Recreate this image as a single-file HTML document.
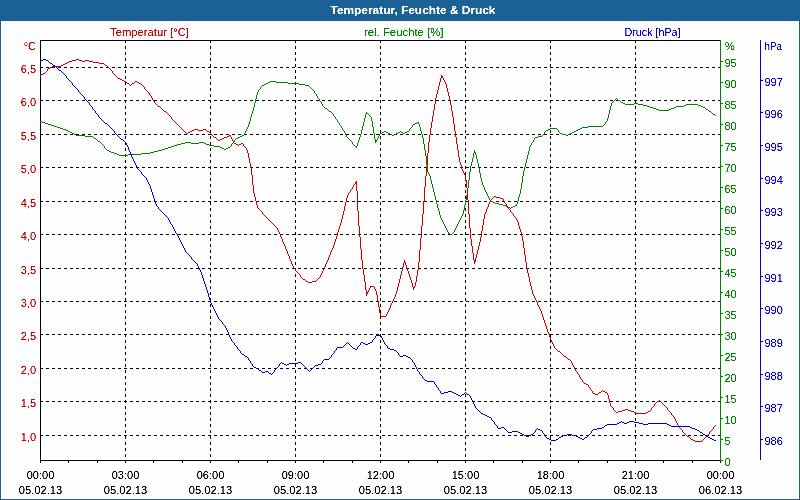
<!DOCTYPE html><html><head><meta charset="utf-8"><title>Temperatur, Feuchte &amp; Druck</title>
<style>html,body{margin:0;padding:0;background:#fff;overflow:hidden}svg{display:block}text{font-family:"Liberation Sans",sans-serif;font-size:11px}</style></head><body>
<svg width="800" height="500" viewBox="0 0 800 500">
<defs><filter id="t" x="0" y="0" width="800" height="500" filterUnits="userSpaceOnUse" color-interpolation-filters="sRGB"><feComponentTransfer><feFuncA type="linear" slope="2.2" intercept="-0.45"/></feComponentTransfer></filter></defs>
<rect x="0" y="0" width="800" height="500" fill="#1c6196"/>
<rect x="1" y="21" width="798" height="478" fill="#fdfefd"/>
<g shape-rendering="crispEdges" stroke="#000" stroke-width="1" stroke-dasharray="3 3" fill="none">
<line x1="125.5" y1="40" x2="125.5" y2="460"/>
<line x1="210.5" y1="40" x2="210.5" y2="460"/>
<line x1="295.5" y1="40" x2="295.5" y2="460"/>
<line x1="380.5" y1="40" x2="380.5" y2="460"/>
<line x1="465.5" y1="40" x2="465.5" y2="460"/>
<line x1="550.5" y1="40" x2="550.5" y2="460"/>
<line x1="635.5" y1="40" x2="635.5" y2="460"/>
<line x1="40" y1="67.5" x2="720" y2="67.5"/>
<line x1="40" y1="100.5" x2="720" y2="100.5"/>
<line x1="40" y1="134.5" x2="720" y2="134.5"/>
<line x1="40" y1="167.5" x2="720" y2="167.5"/>
<line x1="40" y1="201.5" x2="720" y2="201.5"/>
<line x1="40" y1="234.5" x2="720" y2="234.5"/>
<line x1="40" y1="268.5" x2="720" y2="268.5"/>
<line x1="40" y1="301.5" x2="720" y2="301.5"/>
<line x1="40" y1="334.5" x2="720" y2="334.5"/>
<line x1="40" y1="368.5" x2="720" y2="368.5"/>
<line x1="40" y1="401.5" x2="720" y2="401.5"/>
<line x1="40" y1="435.5" x2="720" y2="435.5"/>
</g>
<g shape-rendering="crispEdges" stroke-width="1" fill="none">
<path d="M40.5 40V461M40 40.5H721M40 460.5H721" stroke="#000"/>
<path d="M40.5 461V463M68.5 461V463M97.5 461V463M125.5 461V463M153.5 461V463M182.5 461V463M210.5 461V463M238.5 461V463M267.5 461V463M295.5 461V463M323.5 461V463M352.5 461V463M380.5 461V463M408.5 461V463M437.5 461V463M465.5 461V463M493.5 461V463M522.5 461V463M550.5 461V463M578.5 461V463M607.5 461V463M635.5 461V463M663.5 461V463M692.5 461V463M720.5 461V463" stroke="#000"/>
<path d="M720.5 40V461M721 460.5H723M721 439.5H723M721 418.5H723M721 397.5H723M721 376.5H723M721 355.5H723M721 334.5H723M721 313.5H723M721 292.5H723M721 271.5H723M721 250.5H723M721 229.5H723M721 208.5H723M721 187.5H723M721 166.5H723M721 145.5H723M721 124.5H723M721 103.5H723M721 82.5H723M721 61.5H723" stroke="#008000"/>
<path d="M760.5 40V460M761 80.5H763M761 112.5H763M761 145.5H763M761 178.5H763M761 210.5H763M761 243.5H763M761 276.5H763M761 308.5H763M761 341.5H763M761 374.5H763M761 406.5H763M761 439.5H763" stroke="#0000c8"/>
</g>
<g stroke="none" shape-rendering="crispEdges">
<path fill="#008000" d="M40 121h1v1h-1zM41 121h1v1h-1zM42 122h1v1h-1zM43 122h1v1h-1zM44 122h1v1h-1zM45 123h1v1h-1zM46 123h1v1h-1zM47 123h1v1h-1zM48 124h1v1h-1zM49 124h1v1h-1zM50 124h1v1h-1zM51 125h1v1h-1zM52 125h1v1h-1zM53 125h1v1h-1zM54 126h1v1h-1zM55 126h1v1h-1zM56 126h1v1h-1zM57 127h1v1h-1zM58 127h1v1h-1zM59 127h1v1h-1zM60 128h1v1h-1zM61 128h1v1h-1zM62 128h1v1h-1zM63 129h1v1h-1zM64 129h1v1h-1zM65 129h1v1h-1zM66 130h1v1h-1zM67 130h1v1h-1zM68 131h1v1h-1zM69 131h1v1h-1zM70 132h1v1h-1zM71 132h1v1h-1zM72 133h1v1h-1zM73 133h1v1h-1zM74 134h1v1h-1zM75 134h1v1h-1zM76 135h1v1h-1zM77 135h1v1h-1zM78 135h1v1h-1zM79 135h1v1h-1zM80 135h1v1h-1zM81 135h1v1h-1zM82 135h1v1h-1zM83 135h1v1h-1zM84 135h1v1h-1zM85 136h1v1h-1zM86 136h1v1h-1zM87 136h1v1h-1zM88 136h1v1h-1zM89 136h1v1h-1zM90 136h1v1h-1zM91 136h1v1h-1zM92 136h1v1h-1zM93 137h1v1h-1zM94 138h1v1h-1zM95 138h1v1h-1zM96 139h1v1h-1zM97 140h1v1h-1zM98 141h1v1h-1zM99 141h1v1h-1zM100 142h1v1h-1zM101 143h1v1h-1zM102 144h1v1h-1zM103 145h1v1h-1zM104 146h1v2h-1zM105 148h1v1h-1zM106 149h1v1h-1zM107 150h1v1h-1zM108 150h1v1h-1zM109 151h1v1h-1zM110 151h1v1h-1zM111 152h1v1h-1zM112 152h1v1h-1zM113 152h1v1h-1zM114 153h1v1h-1zM115 153h1v1h-1zM116 153h1v1h-1zM117 154h1v1h-1zM118 154h1v1h-1zM119 155h1v1h-1zM120 155h1v1h-1zM121 155h1v1h-1zM122 155h1v1h-1zM123 155h1v1h-1zM124 155h1v1h-1zM125 155h1v1h-1zM126 155h1v1h-1zM127 155h1v1h-1zM128 154h1v1h-1zM129 154h1v1h-1zM130 154h1v1h-1zM131 154h1v1h-1zM132 154h1v1h-1zM133 154h1v1h-1zM134 154h1v1h-1zM135 154h1v1h-1zM136 154h1v1h-1zM137 154h1v1h-1zM138 154h1v1h-1zM139 154h1v1h-1zM140 154h1v1h-1zM141 153h1v1h-1zM142 153h1v1h-1zM143 153h1v1h-1zM144 153h1v1h-1zM145 153h1v1h-1zM146 153h1v1h-1zM147 153h1v1h-1zM148 153h1v1h-1zM149 153h1v1h-1zM150 152h1v1h-1zM151 152h1v1h-1zM152 152h1v1h-1zM153 152h1v1h-1zM154 151h1v1h-1zM155 151h1v1h-1zM156 151h1v1h-1zM157 151h1v1h-1zM158 150h1v1h-1zM159 150h1v1h-1zM160 150h1v1h-1zM161 150h1v1h-1zM162 149h1v1h-1zM163 149h1v1h-1zM164 149h1v1h-1zM165 148h1v1h-1zM166 148h1v1h-1zM167 148h1v1h-1zM168 147h1v1h-1zM169 147h1v1h-1zM170 147h1v1h-1zM171 146h1v1h-1zM172 146h1v1h-1zM173 146h1v1h-1zM174 145h1v1h-1zM175 145h1v1h-1zM176 145h1v1h-1zM177 144h1v1h-1zM178 144h1v1h-1zM179 144h1v1h-1zM180 144h1v1h-1zM181 143h1v1h-1zM182 143h1v1h-1zM183 143h1v1h-1zM184 143h1v1h-1zM185 142h1v1h-1zM186 142h1v1h-1zM187 142h1v1h-1zM188 142h1v1h-1zM189 142h1v1h-1zM190 142h1v1h-1zM191 143h1v1h-1zM192 143h1v1h-1zM193 143h1v1h-1zM194 143h1v1h-1zM195 143h1v1h-1zM196 143h1v1h-1zM197 143h1v1h-1zM198 143h1v1h-1zM199 142h1v1h-1zM200 142h1v1h-1zM201 142h1v1h-1zM202 142h1v1h-1zM203 142h1v1h-1zM204 143h1v1h-1zM205 143h1v1h-1zM206 144h1v1h-1zM207 144h1v1h-1zM208 144h1v1h-1zM209 145h1v1h-1zM210 145h1v1h-1zM211 145h1v1h-1zM212 145h1v1h-1zM213 145h1v1h-1zM214 146h1v1h-1zM215 146h1v1h-1zM216 146h1v1h-1zM217 146h1v1h-1zM218 146h1v1h-1zM219 146h1v1h-1zM220 147h1v1h-1zM221 147h1v1h-1zM222 148h1v1h-1zM223 148h1v1h-1zM224 149h1v1h-1zM225 149h1v1h-1zM226 148h1v1h-1zM227 148h1v1h-1zM228 147h1v1h-1zM229 147h1v1h-1zM230 146h1v1h-1zM231 144h1v2h-1zM232 143h1v1h-1zM233 142h1v1h-1zM234 140h1v2h-1zM235 139h1v1h-1zM236 138h1v1h-1zM237 138h1v1h-1zM238 137h1v1h-1zM239 137h1v1h-1zM240 136h1v1h-1zM241 136h1v1h-1zM242 135h1v1h-1zM243 135h1v1h-1zM244 133h1v2h-1zM245 131h1v2h-1zM246 129h1v2h-1zM247 127h1v2h-1zM248 124h1v3h-1zM249 121h1v3h-1zM250 117h1v4h-1zM251 114h1v3h-1zM252 111h1v3h-1zM253 107h1v4h-1zM254 103h1v4h-1zM255 99h1v4h-1zM256 95h1v4h-1zM257 92h1v3h-1zM258 90h1v2h-1zM259 89h1v1h-1zM260 87h1v2h-1zM261 86h1v1h-1zM262 85h1v1h-1zM263 85h1v1h-1zM264 84h1v1h-1zM265 84h1v1h-1zM266 83h1v1h-1zM267 83h1v1h-1zM268 82h1v1h-1zM269 82h1v1h-1zM270 81h1v1h-1zM271 81h1v1h-1zM272 81h1v1h-1zM273 81h1v1h-1zM274 81h1v1h-1zM275 81h1v1h-1zM276 82h1v1h-1zM277 82h1v1h-1zM278 82h1v1h-1zM279 82h1v1h-1zM280 82h1v1h-1zM281 82h1v1h-1zM282 82h1v1h-1zM283 82h1v1h-1zM284 82h1v1h-1zM285 82h1v1h-1zM286 82h1v1h-1zM287 82h1v1h-1zM288 83h1v1h-1zM289 83h1v1h-1zM290 83h1v1h-1zM291 83h1v1h-1zM292 83h1v1h-1zM293 83h1v1h-1zM294 83h1v1h-1zM295 83h1v1h-1zM296 83h1v1h-1zM297 83h1v1h-1zM298 83h1v1h-1zM299 84h1v1h-1zM300 84h1v1h-1zM301 84h1v1h-1zM302 84h1v1h-1zM303 84h1v1h-1zM304 84h1v1h-1zM305 85h1v1h-1zM306 85h1v1h-1zM307 85h1v1h-1zM308 85h1v1h-1zM309 86h1v1h-1zM310 87h1v1h-1zM311 88h1v1h-1zM312 89h1v1h-1zM313 90h1v1h-1zM314 91h1v2h-1zM315 93h1v1h-1zM316 94h1v2h-1zM317 96h1v2h-1zM318 98h1v1h-1zM319 99h1v2h-1zM320 101h1v1h-1zM321 102h1v2h-1zM322 104h1v2h-1zM323 106h1v1h-1zM324 107h1v1h-1zM325 108h1v1h-1zM326 108h1v1h-1zM327 109h1v1h-1zM328 110h1v1h-1zM329 111h1v1h-1zM330 111h1v1h-1zM331 112h1v1h-1zM332 113h1v1h-1zM333 114h1v2h-1zM334 116h1v1h-1zM335 117h1v2h-1zM336 119h1v1h-1zM337 120h1v2h-1zM338 122h1v1h-1zM339 123h1v2h-1zM340 125h1v1h-1zM341 126h1v2h-1zM342 128h1v2h-1zM343 130h1v1h-1zM344 131h1v2h-1zM345 133h1v2h-1zM346 135h1v2h-1zM347 137h1v1h-1zM348 138h1v1h-1zM349 139h1v1h-1zM350 140h1v1h-1zM351 141h1v1h-1zM352 142h1v2h-1zM353 144h1v1h-1zM354 145h1v1h-1zM355 146h1v1h-1zM356 146h1v2h-1zM357 143h1v3h-1zM358 140h1v3h-1zM359 137h1v3h-1zM360 134h1v3h-1zM361 130h1v4h-1zM362 126h1v4h-1zM363 122h1v4h-1zM364 118h1v4h-1zM365 114h1v4h-1zM366 112h1v2h-1zM367 113h1v1h-1zM368 114h1v1h-1zM369 115h1v1h-1zM370 116h1v1h-1zM371 117h1v4h-1zM372 121h1v6h-1zM373 127h1v6h-1zM374 133h1v6h-1zM375 139h1v4h-1zM376 140h1v2h-1zM377 138h1v2h-1zM378 136h1v2h-1zM379 134h1v2h-1zM380 133h1v1h-1zM381 133h1v1h-1zM382 132h1v1h-1zM383 132h1v1h-1zM384 131h1v1h-1zM385 131h1v1h-1zM386 132h1v1h-1zM387 132h1v1h-1zM388 133h1v1h-1zM389 133h1v1h-1zM390 134h1v1h-1zM391 134h1v1h-1zM392 135h1v1h-1zM393 135h1v1h-1zM394 134h1v1h-1zM395 134h1v1h-1zM396 133h1v1h-1zM397 133h1v1h-1zM398 132h1v1h-1zM399 132h1v1h-1zM400 131h1v1h-1zM401 132h1v1h-1zM402 132h1v1h-1zM403 133h1v1h-1zM404 133h1v1h-1zM405 132h1v1h-1zM406 132h1v1h-1zM407 131h1v1h-1zM408 131h1v1h-1zM409 129h1v2h-1zM410 128h1v1h-1zM411 127h1v1h-1zM412 125h1v2h-1zM413 124h1v1h-1zM414 124h1v1h-1zM415 123h1v1h-1zM416 123h1v1h-1zM417 122h1v1h-1zM418 122h1v2h-1zM419 124h1v3h-1zM420 127h1v4h-1zM421 131h1v3h-1zM422 134h1v4h-1zM423 138h1v6h-1zM424 144h1v6h-1zM425 150h1v6h-1zM426 156h1v9h-1zM427 165h1v7h-1zM428 172h1v2h-1zM429 174h1v2h-1zM430 176h1v4h-1zM431 180h1v4h-1zM432 184h1v4h-1zM433 188h1v4h-1zM434 192h1v4h-1zM435 196h1v4h-1zM436 200h1v4h-1zM437 204h1v4h-1zM438 208h1v3h-1zM439 211h1v4h-1zM440 215h1v3h-1zM441 218h1v2h-1zM442 220h1v2h-1zM443 222h1v2h-1zM444 224h1v2h-1zM445 226h1v2h-1zM446 228h1v2h-1zM447 230h1v2h-1zM448 232h1v2h-1zM449 233h1v1h-1zM450 234h1v1h-1zM451 234h1v1h-1zM452 233h1v1h-1zM453 232h1v1h-1zM454 230h1v2h-1zM455 228h1v2h-1zM456 226h1v2h-1zM457 224h1v2h-1zM458 222h1v2h-1zM459 220h1v2h-1zM460 218h1v2h-1zM461 216h1v2h-1zM462 214h1v2h-1zM463 210h1v4h-1zM464 205h1v5h-1zM465 200h1v5h-1zM466 195h1v5h-1zM467 188h1v7h-1zM468 180h1v8h-1zM469 172h1v8h-1zM470 166h1v6h-1zM471 162h1v4h-1zM472 158h1v4h-1zM473 153h1v5h-1zM474 150h1v3h-1zM475 152h1v3h-1zM476 155h1v4h-1zM477 159h1v4h-1zM478 163h1v5h-1zM479 168h1v5h-1zM480 173h1v5h-1zM481 178h1v4h-1zM482 182h1v3h-1zM483 185h1v2h-1zM484 187h1v3h-1zM485 190h1v2h-1zM486 192h1v2h-1zM487 194h1v2h-1zM488 196h1v2h-1zM489 198h1v2h-1zM490 200h1v1h-1zM491 201h1v1h-1zM492 201h1v1h-1zM493 202h1v1h-1zM494 202h1v1h-1zM495 203h1v1h-1zM496 203h1v1h-1zM497 203h1v1h-1zM498 203h1v1h-1zM499 204h1v1h-1zM500 204h1v1h-1zM501 204h1v1h-1zM502 204h1v1h-1zM503 205h1v1h-1zM504 205h1v1h-1zM505 205h1v1h-1zM506 206h1v1h-1zM507 206h1v1h-1zM508 207h1v1h-1zM509 207h1v1h-1zM510 208h1v1h-1zM511 207h1v1h-1zM512 207h1v1h-1zM513 206h1v1h-1zM514 206h1v1h-1zM515 205h1v1h-1zM516 204h1v2h-1zM517 201h1v3h-1zM518 197h1v4h-1zM519 194h1v3h-1zM520 189h1v5h-1zM521 183h1v6h-1zM522 176h1v7h-1zM523 171h1v5h-1zM524 167h1v4h-1zM525 163h1v4h-1zM526 159h1v4h-1zM527 155h1v4h-1zM528 151h1v4h-1zM529 147h1v4h-1zM530 145h1v2h-1zM531 143h1v2h-1zM532 142h1v1h-1zM533 140h1v2h-1zM534 138h1v2h-1zM535 137h1v1h-1zM536 137h1v1h-1zM537 137h1v1h-1zM538 136h1v1h-1zM539 136h1v1h-1zM540 136h1v1h-1zM541 136h1v1h-1zM542 135h1v1h-1zM543 134h1v1h-1zM544 132h1v2h-1zM545 131h1v1h-1zM546 130h1v1h-1zM547 130h1v1h-1zM548 129h1v1h-1zM549 129h1v1h-1zM550 128h1v1h-1zM551 128h1v1h-1zM552 128h1v1h-1zM553 128h1v1h-1zM554 128h1v1h-1zM555 128h1v1h-1zM556 128h1v1h-1zM557 129h1v1h-1zM558 130h1v2h-1zM559 132h1v1h-1zM560 133h1v1h-1zM561 133h1v1h-1zM562 134h1v1h-1zM563 134h1v1h-1zM564 134h1v1h-1zM565 134h1v1h-1zM566 135h1v1h-1zM567 135h1v1h-1zM568 134h1v1h-1zM569 134h1v1h-1zM570 133h1v1h-1zM571 133h1v1h-1zM572 132h1v1h-1zM573 132h1v1h-1zM574 131h1v1h-1zM575 131h1v1h-1zM576 130h1v1h-1zM577 130h1v1h-1zM578 129h1v1h-1zM579 129h1v1h-1zM580 128h1v1h-1zM581 128h1v1h-1zM582 127h1v1h-1zM583 127h1v1h-1zM584 127h1v1h-1zM585 127h1v1h-1zM586 127h1v1h-1zM587 127h1v1h-1zM588 126h1v1h-1zM589 126h1v1h-1zM590 126h1v1h-1zM591 126h1v1h-1zM592 126h1v1h-1zM593 126h1v1h-1zM594 126h1v1h-1zM595 126h1v1h-1zM596 126h1v1h-1zM597 126h1v1h-1zM598 126h1v1h-1zM599 126h1v1h-1zM600 126h1v1h-1zM601 126h1v1h-1zM602 126h1v1h-1zM603 125h1v1h-1zM604 124h1v1h-1zM605 122h1v2h-1zM606 121h1v1h-1zM607 118h1v3h-1zM608 114h1v4h-1zM609 110h1v4h-1zM610 106h1v4h-1zM611 103h1v3h-1zM612 102h1v1h-1zM613 101h1v1h-1zM614 100h1v1h-1zM615 99h1v1h-1zM616 98h1v1h-1zM617 99h1v1h-1zM618 100h1v1h-1zM619 100h1v1h-1zM620 101h1v1h-1zM621 102h1v1h-1zM622 102h1v1h-1zM623 103h1v1h-1zM624 103h1v1h-1zM625 104h1v1h-1zM626 104h1v1h-1zM627 104h1v1h-1zM628 104h1v1h-1zM629 104h1v1h-1zM630 104h1v1h-1zM631 104h1v1h-1zM632 104h1v1h-1zM633 104h1v1h-1zM634 103h1v1h-1zM635 103h1v1h-1zM636 103h1v1h-1zM637 103h1v1h-1zM638 104h1v1h-1zM639 104h1v1h-1zM640 104h1v1h-1zM641 104h1v1h-1zM642 104h1v1h-1zM643 105h1v1h-1zM644 105h1v1h-1zM645 105h1v1h-1zM646 105h1v1h-1zM647 106h1v1h-1zM648 106h1v1h-1zM649 106h1v1h-1zM650 107h1v1h-1zM651 107h1v1h-1zM652 107h1v1h-1zM653 108h1v1h-1zM654 108h1v1h-1zM655 108h1v1h-1zM656 109h1v1h-1zM657 109h1v1h-1zM658 109h1v1h-1zM659 110h1v1h-1zM660 110h1v1h-1zM661 110h1v1h-1zM662 110h1v1h-1zM663 110h1v1h-1zM664 110h1v1h-1zM665 110h1v1h-1zM666 110h1v1h-1zM667 110h1v1h-1zM668 110h1v1h-1zM669 109h1v1h-1zM670 109h1v1h-1zM671 108h1v1h-1zM672 108h1v1h-1zM673 108h1v1h-1zM674 107h1v1h-1zM675 107h1v1h-1zM676 106h1v1h-1zM677 106h1v1h-1zM678 106h1v1h-1zM679 106h1v1h-1zM680 106h1v1h-1zM681 106h1v1h-1zM682 106h1v1h-1zM683 106h1v1h-1zM684 105h1v1h-1zM685 105h1v1h-1zM686 104h1v1h-1zM687 104h1v1h-1zM688 104h1v1h-1zM689 104h1v1h-1zM690 104h1v1h-1zM691 104h1v1h-1zM692 104h1v1h-1zM693 104h1v1h-1zM694 104h1v1h-1zM695 104h1v1h-1zM696 104h1v1h-1zM697 104h1v1h-1zM698 105h1v1h-1zM699 105h1v1h-1zM700 105h1v1h-1zM701 106h1v1h-1zM702 106h1v1h-1zM703 107h1v1h-1zM704 107h1v1h-1zM705 108h1v1h-1zM706 109h1v1h-1zM707 109h1v1h-1zM708 110h1v1h-1zM709 111h1v1h-1zM710 111h1v1h-1zM711 112h1v1h-1zM712 113h1v1h-1zM713 114h1v1h-1zM714 114h1v1h-1zM715 115h1v1h-1z"/>
<path fill="#c80000" d="M40 75h1v1h-1zM41 74h1v1h-1zM42 74h1v1h-1zM43 73h1v1h-1zM44 73h1v1h-1zM45 72h1v1h-1zM46 71h1v1h-1zM47 69h1v2h-1zM48 68h1v1h-1zM49 68h1v1h-1zM50 67h1v1h-1zM51 67h1v1h-1zM52 66h1v1h-1zM53 66h1v1h-1zM54 66h1v1h-1zM55 66h1v1h-1zM56 66h1v1h-1zM57 66h1v1h-1zM58 66h1v1h-1zM59 66h1v1h-1zM60 66h1v1h-1zM61 65h1v1h-1zM62 65h1v1h-1zM63 64h1v1h-1zM64 64h1v1h-1zM65 63h1v1h-1zM66 63h1v1h-1zM67 62h1v1h-1zM68 62h1v1h-1zM69 61h1v1h-1zM70 61h1v1h-1zM71 61h1v1h-1zM72 60h1v1h-1zM73 60h1v1h-1zM74 60h1v1h-1zM75 60h1v1h-1zM76 59h1v1h-1zM77 59h1v1h-1zM78 59h1v1h-1zM79 60h1v1h-1zM80 60h1v1h-1zM81 60h1v1h-1zM82 61h1v1h-1zM83 61h1v1h-1zM84 61h1v1h-1zM85 60h1v1h-1zM86 60h1v1h-1zM87 60h1v1h-1zM88 60h1v1h-1zM89 61h1v1h-1zM90 61h1v1h-1zM91 61h1v1h-1zM92 61h1v1h-1zM93 62h1v1h-1zM94 62h1v1h-1zM95 62h1v1h-1zM96 62h1v1h-1zM97 62h1v1h-1zM98 62h1v1h-1zM99 63h1v1h-1zM100 63h1v1h-1zM101 63h1v1h-1zM102 63h1v1h-1zM103 63h1v1h-1zM104 64h1v1h-1zM105 65h1v1h-1zM106 65h1v1h-1zM107 66h1v1h-1zM108 67h1v1h-1zM109 68h1v1h-1zM110 69h1v1h-1zM111 70h1v1h-1zM112 71h1v2h-1zM113 73h1v1h-1zM114 74h1v1h-1zM115 75h1v1h-1zM116 76h1v1h-1zM117 77h1v1h-1zM118 78h1v1h-1zM119 78h1v1h-1zM120 79h1v1h-1zM121 79h1v1h-1zM122 80h1v1h-1zM123 80h1v1h-1zM124 81h1v1h-1zM125 81h1v1h-1zM126 82h1v1h-1zM127 83h1v1h-1zM128 83h1v1h-1zM129 84h1v1h-1zM130 85h1v1h-1zM131 84h1v1h-1zM132 83h1v1h-1zM133 83h1v1h-1zM134 82h1v1h-1zM135 81h1v1h-1zM136 81h1v1h-1zM137 82h1v1h-1zM138 82h1v1h-1zM139 83h1v1h-1zM140 83h1v1h-1zM141 84h1v1h-1zM142 85h1v1h-1zM143 86h1v1h-1zM144 87h1v2h-1zM145 89h1v1h-1zM146 90h1v1h-1zM147 91h1v1h-1zM148 92h1v1h-1zM149 93h1v2h-1zM150 95h1v1h-1zM151 96h1v2h-1zM152 98h1v2h-1zM153 100h1v1h-1zM154 101h1v2h-1zM155 103h1v1h-1zM156 104h1v1h-1zM157 105h1v1h-1zM158 106h1v1h-1zM159 106h1v1h-1zM160 107h1v1h-1zM161 108h1v1h-1zM162 109h1v1h-1zM163 110h1v1h-1zM164 111h1v1h-1zM165 111h1v1h-1zM166 112h1v1h-1zM167 113h1v1h-1zM168 114h1v1h-1zM169 115h1v1h-1zM170 116h1v1h-1zM171 117h1v2h-1zM172 119h1v1h-1zM173 120h1v1h-1zM174 121h1v1h-1zM175 122h1v1h-1zM176 123h1v1h-1zM177 124h1v1h-1zM178 125h1v1h-1zM179 126h1v1h-1zM180 127h1v1h-1zM181 128h1v1h-1zM182 129h1v1h-1zM183 130h1v1h-1zM184 131h1v1h-1zM185 132h1v1h-1zM186 133h1v1h-1zM187 133h1v1h-1zM188 132h1v1h-1zM189 132h1v1h-1zM190 131h1v1h-1zM191 131h1v1h-1zM192 130h1v1h-1zM193 130h1v1h-1zM194 129h1v1h-1zM195 129h1v1h-1zM196 129h1v1h-1zM197 129h1v1h-1zM198 130h1v1h-1zM199 130h1v1h-1zM200 130h1v1h-1zM201 130h1v1h-1zM202 130h1v1h-1zM203 129h1v1h-1zM204 129h1v1h-1zM205 129h1v1h-1zM206 130h1v1h-1zM207 131h1v1h-1zM208 131h1v1h-1zM209 132h1v1h-1zM210 133h1v1h-1zM211 134h1v1h-1zM212 135h1v1h-1zM213 136h1v1h-1zM214 137h1v1h-1zM215 137h1v1h-1zM216 138h1v1h-1zM217 139h1v1h-1zM218 140h1v1h-1zM219 140h1v1h-1zM220 139h1v1h-1zM221 139h1v1h-1zM222 138h1v1h-1zM223 138h1v1h-1zM224 137h1v1h-1zM225 137h1v1h-1zM226 137h1v1h-1zM227 136h1v1h-1zM228 136h1v1h-1zM229 135h1v1h-1zM230 135h1v2h-1zM231 137h1v2h-1zM232 139h1v2h-1zM233 141h1v2h-1zM234 143h1v1h-1zM235 143h1v1h-1zM236 144h1v1h-1zM237 144h1v1h-1zM238 145h1v1h-1zM239 144h1v1h-1zM240 144h1v1h-1zM241 143h1v1h-1zM242 143h1v1h-1zM243 144h1v2h-1zM244 146h1v1h-1zM245 147h1v1h-1zM246 148h1v2h-1zM247 150h1v3h-1zM248 153h1v5h-1zM249 158h1v5h-1zM250 163h1v5h-1zM251 168h1v7h-1zM252 175h1v10h-1zM253 185h1v8h-1zM254 193h1v4h-1zM255 197h1v4h-1zM256 201h1v4h-1zM257 205h1v3h-1zM258 208h1v1h-1zM259 209h1v1h-1zM260 210h1v1h-1zM261 211h1v1h-1zM262 212h1v2h-1zM263 214h1v1h-1zM264 215h1v1h-1zM265 216h1v1h-1zM266 217h1v1h-1zM267 218h1v1h-1zM268 219h1v1h-1zM269 220h1v1h-1zM270 221h1v1h-1zM271 222h1v1h-1zM272 223h1v1h-1zM273 224h1v1h-1zM274 225h1v1h-1zM275 226h1v1h-1zM276 227h1v1h-1zM277 228h1v2h-1zM278 230h1v2h-1zM279 232h1v2h-1zM280 234h1v3h-1zM281 237h1v2h-1zM282 239h1v3h-1zM283 242h1v2h-1zM284 244h1v2h-1zM285 246h1v3h-1zM286 249h1v2h-1zM287 251h1v3h-1zM288 254h1v2h-1zM289 256h1v3h-1zM290 259h1v2h-1zM291 261h1v3h-1zM292 264h1v2h-1zM293 266h1v2h-1zM294 268h1v1h-1zM295 269h1v2h-1zM296 271h1v1h-1zM297 272h1v1h-1zM298 273h1v1h-1zM299 274h1v1h-1zM300 275h1v2h-1zM301 277h1v1h-1zM302 278h1v1h-1zM303 279h1v1h-1zM304 279h1v1h-1zM305 280h1v1h-1zM306 281h1v1h-1zM307 281h1v1h-1zM308 282h1v1h-1zM309 282h1v1h-1zM310 282h1v1h-1zM311 282h1v1h-1zM312 281h1v1h-1zM313 281h1v1h-1zM314 281h1v1h-1zM315 281h1v1h-1zM316 280h1v1h-1zM317 279h1v1h-1zM318 278h1v1h-1zM319 277h1v1h-1zM320 275h1v2h-1zM321 273h1v2h-1zM322 271h1v2h-1zM323 269h1v2h-1zM324 267h1v2h-1zM325 264h1v3h-1zM326 262h1v2h-1zM327 260h1v2h-1zM328 257h1v3h-1zM329 255h1v2h-1zM330 252h1v3h-1zM331 250h1v2h-1zM332 248h1v2h-1zM333 245h1v3h-1zM334 242h1v3h-1zM335 239h1v3h-1zM336 236h1v3h-1zM337 232h1v4h-1zM338 229h1v3h-1zM339 226h1v3h-1zM340 223h1v3h-1zM341 219h1v4h-1zM342 215h1v4h-1zM343 211h1v4h-1zM344 206h1v5h-1zM345 202h1v4h-1zM346 198h1v4h-1zM347 195h1v3h-1zM348 193h1v2h-1zM349 192h1v1h-1zM350 190h1v2h-1zM351 189h1v1h-1zM352 187h1v2h-1zM353 185h1v2h-1zM354 184h1v1h-1zM355 182h1v2h-1zM356 181h1v10h-1zM357 191h1v20h-1zM358 211h1v15h-1zM359 226h1v11h-1zM360 237h1v12h-1zM361 249h1v11h-1zM362 260h1v9h-1zM363 269h1v6h-1zM364 275h1v7h-1zM365 282h1v8h-1zM366 290h1v6h-1zM367 292h1v2h-1zM368 290h1v2h-1zM369 288h1v2h-1zM370 286h1v2h-1zM371 286h1v1h-1zM372 286h1v1h-1zM373 286h1v1h-1zM374 287h1v2h-1zM375 289h1v2h-1zM376 291h1v4h-1zM377 295h1v6h-1zM378 301h1v6h-1zM379 307h1v6h-1zM380 313h1v3h-1zM381 316h1v1h-1zM382 316h1v1h-1zM383 316h1v1h-1zM384 316h1v1h-1zM385 316h1v1h-1zM386 314h1v2h-1zM387 312h1v2h-1zM388 310h1v2h-1zM389 308h1v2h-1zM390 305h1v3h-1zM391 303h1v2h-1zM392 301h1v2h-1zM393 299h1v2h-1zM394 297h1v2h-1zM395 294h1v3h-1zM396 291h1v3h-1zM397 287h1v4h-1zM398 283h1v4h-1zM399 279h1v4h-1zM400 275h1v4h-1zM401 271h1v4h-1zM402 267h1v4h-1zM403 263h1v4h-1zM404 260h1v3h-1zM405 262h1v3h-1zM406 265h1v3h-1zM407 268h1v3h-1zM408 271h1v3h-1zM409 274h1v3h-1zM410 277h1v3h-1zM411 280h1v3h-1zM412 283h1v4h-1zM413 287h1v3h-1zM414 286h1v2h-1zM415 282h1v4h-1zM416 276h1v6h-1zM417 270h1v6h-1zM418 262h1v8h-1zM419 250h1v12h-1zM420 238h1v12h-1zM421 226h1v12h-1zM422 214h1v12h-1zM423 201h1v13h-1zM424 187h1v14h-1zM425 176h1v11h-1zM426 166h1v10h-1zM427 153h1v13h-1zM428 142h1v11h-1zM429 135h1v7h-1zM430 128h1v7h-1zM431 122h1v6h-1zM432 116h1v6h-1zM433 110h1v6h-1zM434 104h1v6h-1zM435 98h1v6h-1zM436 94h1v4h-1zM437 90h1v4h-1zM438 86h1v4h-1zM439 82h1v4h-1zM440 78h1v4h-1zM441 75h1v3h-1zM442 76h1v2h-1zM443 78h1v2h-1zM444 80h1v2h-1zM445 82h1v2h-1zM446 84h1v4h-1zM447 88h1v4h-1zM448 92h1v4h-1zM449 96h1v5h-1zM450 101h1v4h-1zM451 105h1v6h-1zM452 111h1v6h-1zM453 117h1v7h-1zM454 124h1v7h-1zM455 131h1v6h-1zM456 137h1v7h-1zM457 144h1v6h-1zM458 150h1v7h-1zM459 157h1v5h-1zM460 162h1v3h-1zM461 165h1v4h-1zM462 169h1v2h-1zM463 171h1v2h-1zM464 173h1v2h-1zM465 175h1v5h-1zM466 180h1v8h-1zM467 188h1v12h-1zM468 200h1v14h-1zM469 214h1v14h-1zM470 228h1v11h-1zM471 239h1v7h-1zM472 246h1v7h-1zM473 253h1v7h-1zM474 260h1v4h-1zM475 258h1v4h-1zM476 254h1v4h-1zM477 250h1v4h-1zM478 246h1v4h-1zM479 242h1v4h-1zM480 237h1v5h-1zM481 231h1v6h-1zM482 225h1v6h-1zM483 219h1v6h-1zM484 214h1v5h-1zM485 212h1v2h-1zM486 209h1v3h-1zM487 207h1v2h-1zM488 204h1v3h-1zM489 202h1v2h-1zM490 200h1v2h-1zM491 199h1v1h-1zM492 198h1v1h-1zM493 197h1v1h-1zM494 196h1v1h-1zM495 196h1v1h-1zM496 197h1v1h-1zM497 197h1v1h-1zM498 197h1v1h-1zM499 197h1v1h-1zM500 198h1v1h-1zM501 198h1v1h-1zM502 198h1v1h-1zM503 199h1v2h-1zM504 201h1v2h-1zM505 203h1v1h-1zM506 204h1v2h-1zM507 206h1v2h-1zM508 208h1v1h-1zM509 209h1v1h-1zM510 210h1v2h-1zM511 212h1v1h-1zM512 213h1v1h-1zM513 214h1v2h-1zM514 216h1v1h-1zM515 217h1v1h-1zM516 218h1v2h-1zM517 220h1v2h-1zM518 222h1v4h-1zM519 226h1v3h-1zM520 229h1v3h-1zM521 232h1v4h-1zM522 236h1v5h-1zM523 241h1v7h-1zM524 248h1v7h-1zM525 255h1v7h-1zM526 262h1v6h-1zM527 268h1v5h-1zM528 273h1v4h-1zM529 277h1v5h-1zM530 282h1v4h-1zM531 286h1v4h-1zM532 290h1v4h-1zM533 294h1v2h-1zM534 296h1v2h-1zM535 298h1v2h-1zM536 300h1v2h-1zM537 302h1v3h-1zM538 305h1v2h-1zM539 307h1v2h-1zM540 309h1v2h-1zM541 311h1v3h-1zM542 314h1v3h-1zM543 317h1v3h-1zM544 320h1v3h-1zM545 323h1v3h-1zM546 326h1v3h-1zM547 329h1v3h-1zM548 332h1v2h-1zM549 334h1v3h-1zM550 337h1v3h-1zM551 340h1v2h-1zM552 342h1v2h-1zM553 344h1v2h-1zM554 346h1v2h-1zM555 348h1v1h-1zM556 349h1v1h-1zM557 350h1v1h-1zM558 351h1v1h-1zM559 351h1v1h-1zM560 352h1v1h-1zM561 353h1v1h-1zM562 354h1v1h-1zM563 355h1v1h-1zM564 356h1v1h-1zM565 356h1v1h-1zM566 357h1v1h-1zM567 358h1v1h-1zM568 359h1v1h-1zM569 359h1v1h-1zM570 360h1v1h-1zM571 361h1v2h-1zM572 363h1v2h-1zM573 365h1v2h-1zM574 367h1v2h-1zM575 369h1v2h-1zM576 371h1v1h-1zM577 372h1v2h-1zM578 374h1v1h-1zM579 375h1v2h-1zM580 377h1v2h-1zM581 379h1v1h-1zM582 380h1v2h-1zM583 382h1v1h-1zM584 383h1v1h-1zM585 383h1v1h-1zM586 384h1v1h-1zM587 384h1v1h-1zM588 385h1v2h-1zM589 387h1v1h-1zM590 388h1v2h-1zM591 390h1v1h-1zM592 391h1v2h-1zM593 393h1v1h-1zM594 393h1v1h-1zM595 394h1v1h-1zM596 394h1v1h-1zM597 394h1v1h-1zM598 393h1v1h-1zM599 392h1v1h-1zM600 392h1v1h-1zM601 391h1v1h-1zM602 390h1v1h-1zM603 391h1v1h-1zM604 391h1v1h-1zM605 392h1v1h-1zM606 392h1v1h-1zM607 393h1v2h-1zM608 395h1v4h-1zM609 399h1v4h-1zM610 403h1v3h-1zM611 406h1v1h-1zM612 407h1v1h-1zM613 408h1v2h-1zM614 410h1v1h-1zM615 411h1v1h-1zM616 412h1v1h-1zM617 412h1v1h-1zM618 411h1v1h-1zM619 411h1v1h-1zM620 411h1v1h-1zM621 411h1v1h-1zM622 410h1v1h-1zM623 410h1v1h-1zM624 410h1v1h-1zM625 409h1v1h-1zM626 409h1v1h-1zM627 409h1v1h-1zM628 410h1v1h-1zM629 410h1v1h-1zM630 410h1v1h-1zM631 411h1v1h-1zM632 411h1v1h-1zM633 411h1v1h-1zM634 412h1v1h-1zM635 412h1v1h-1zM636 413h1v1h-1zM637 413h1v1h-1zM638 413h1v1h-1zM639 413h1v1h-1zM640 413h1v1h-1zM641 413h1v1h-1zM642 413h1v1h-1zM643 413h1v1h-1zM644 413h1v1h-1zM645 413h1v1h-1zM646 412h1v1h-1zM647 412h1v1h-1zM648 411h1v1h-1zM649 411h1v1h-1zM650 410h1v1h-1zM651 408h1v2h-1zM652 407h1v1h-1zM653 406h1v1h-1zM654 404h1v2h-1zM655 403h1v1h-1zM656 402h1v1h-1zM657 401h1v1h-1zM658 401h1v1h-1zM659 400h1v1h-1zM660 401h1v1h-1zM661 402h1v1h-1zM662 403h1v1h-1zM663 404h1v1h-1zM664 405h1v1h-1zM665 406h1v1h-1zM666 407h1v1h-1zM667 408h1v2h-1zM668 410h1v1h-1zM669 411h1v1h-1zM670 412h1v1h-1zM671 413h1v2h-1zM672 415h1v1h-1zM673 416h1v1h-1zM674 417h1v2h-1zM675 419h1v2h-1zM676 421h1v2h-1zM677 423h1v2h-1zM678 425h1v2h-1zM679 427h1v1h-1zM680 428h1v1h-1zM681 429h1v1h-1zM682 430h1v2h-1zM683 432h1v1h-1zM684 433h1v1h-1zM685 434h1v1h-1zM686 435h1v1h-1zM687 436h1v1h-1zM688 436h1v1h-1zM689 437h1v1h-1zM690 438h1v1h-1zM691 439h1v1h-1zM692 439h1v1h-1zM693 440h1v1h-1zM694 440h1v1h-1zM695 441h1v1h-1zM696 441h1v1h-1zM697 441h1v1h-1zM698 441h1v1h-1zM699 441h1v1h-1zM700 441h1v1h-1zM701 441h1v1h-1zM702 440h1v1h-1zM703 439h1v1h-1zM704 438h1v1h-1zM705 437h1v1h-1zM706 436h1v1h-1zM707 435h1v1h-1zM708 434h1v1h-1zM709 432h1v2h-1zM710 431h1v1h-1zM711 430h1v1h-1zM712 429h1v1h-1zM713 427h1v2h-1zM714 426h1v1h-1zM715 425h1v1h-1z"/>
<path fill="#0000c8" d="M40 60h1v1h-1zM41 60h1v1h-1zM42 60h1v1h-1zM43 59h1v1h-1zM44 59h1v1h-1zM45 59h1v1h-1zM46 60h1v1h-1zM47 60h1v1h-1zM48 61h1v1h-1zM49 62h1v1h-1zM50 63h1v1h-1zM51 63h1v1h-1zM52 64h1v1h-1zM53 65h1v1h-1zM54 65h1v1h-1zM55 66h1v1h-1zM56 67h1v1h-1zM57 68h1v1h-1zM58 69h1v1h-1zM59 70h1v1h-1zM60 70h1v1h-1zM61 71h1v1h-1zM62 72h1v1h-1zM63 73h1v1h-1zM64 74h1v1h-1zM65 75h1v1h-1zM66 76h1v2h-1zM67 78h1v1h-1zM68 79h1v1h-1zM69 80h1v1h-1zM70 81h1v1h-1zM71 82h1v1h-1zM72 83h1v2h-1zM73 85h1v1h-1zM74 86h1v1h-1zM75 87h1v1h-1zM76 88h1v1h-1zM77 89h1v1h-1zM78 90h1v2h-1zM79 92h1v1h-1zM80 93h1v1h-1zM81 94h1v1h-1zM82 95h1v1h-1zM83 96h1v1h-1zM84 97h1v2h-1zM85 99h1v1h-1zM86 100h1v1h-1zM87 101h1v1h-1zM88 102h1v1h-1zM89 103h1v2h-1zM90 105h1v1h-1zM91 106h1v1h-1zM92 107h1v2h-1zM93 109h1v1h-1zM94 110h1v1h-1zM95 111h1v2h-1zM96 113h1v1h-1zM97 114h1v1h-1zM98 115h1v2h-1zM99 117h1v1h-1zM100 118h1v1h-1zM101 119h1v1h-1zM102 120h1v1h-1zM103 121h1v1h-1zM104 122h1v1h-1zM105 123h1v1h-1zM106 123h1v1h-1zM107 124h1v1h-1zM108 125h1v1h-1zM109 126h1v1h-1zM110 127h1v1h-1zM111 128h1v1h-1zM112 129h1v1h-1zM113 130h1v1h-1zM114 131h1v2h-1zM115 133h1v1h-1zM116 134h1v1h-1zM117 135h1v1h-1zM118 136h1v1h-1zM119 137h1v1h-1zM120 138h1v1h-1zM121 139h1v1h-1zM122 139h1v1h-1zM123 140h1v1h-1zM124 141h1v1h-1zM125 142h1v1h-1zM126 143h1v2h-1zM127 145h1v2h-1zM128 147h1v3h-1zM129 150h1v2h-1zM130 152h1v2h-1zM131 154h1v3h-1zM132 157h1v2h-1zM133 159h1v2h-1zM134 161h1v2h-1zM135 163h1v2h-1zM136 165h1v2h-1zM137 167h1v2h-1zM138 169h1v1h-1zM139 170h1v1h-1zM140 171h1v1h-1zM141 172h1v2h-1zM142 174h1v1h-1zM143 175h1v1h-1zM144 176h1v1h-1zM145 177h1v1h-1zM146 178h1v2h-1zM147 180h1v2h-1zM148 182h1v2h-1zM149 184h1v2h-1zM150 186h1v3h-1zM151 189h1v3h-1zM152 192h1v3h-1zM153 195h1v3h-1zM154 198h1v3h-1zM155 201h1v3h-1zM156 204h1v2h-1zM157 206h1v1h-1zM158 207h1v2h-1zM159 209h1v1h-1zM160 210h1v1h-1zM161 211h1v1h-1zM162 212h1v1h-1zM163 213h1v1h-1zM164 214h1v1h-1zM165 215h1v1h-1zM166 216h1v1h-1zM167 217h1v1h-1zM168 218h1v2h-1zM169 220h1v2h-1zM170 222h1v2h-1zM171 224h1v1h-1zM172 225h1v2h-1zM173 227h1v2h-1zM174 229h1v2h-1zM175 231h1v2h-1zM176 233h1v1h-1zM177 234h1v2h-1zM178 236h1v2h-1zM179 238h1v2h-1zM180 240h1v2h-1zM181 242h1v2h-1zM182 244h1v2h-1zM183 246h1v2h-1zM184 248h1v2h-1zM185 250h1v2h-1zM186 252h1v1h-1zM187 253h1v1h-1zM188 254h1v1h-1zM189 255h1v1h-1zM190 256h1v1h-1zM191 257h1v2h-1zM192 259h1v1h-1zM193 260h1v1h-1zM194 261h1v1h-1zM195 262h1v1h-1zM196 263h1v1h-1zM197 264h1v2h-1zM198 266h1v2h-1zM199 268h1v2h-1zM200 270h1v2h-1zM201 272h1v3h-1zM202 275h1v3h-1zM203 278h1v3h-1zM204 281h1v3h-1zM205 284h1v3h-1zM206 287h1v3h-1zM207 290h1v3h-1zM208 293h1v4h-1zM209 297h1v3h-1zM210 300h1v3h-1zM211 303h1v2h-1zM212 305h1v2h-1zM213 307h1v2h-1zM214 309h1v2h-1zM215 311h1v2h-1zM216 313h1v2h-1zM217 315h1v2h-1zM218 317h1v2h-1zM219 319h1v1h-1zM220 320h1v1h-1zM221 321h1v1h-1zM222 322h1v2h-1zM223 324h1v1h-1zM224 325h1v1h-1zM225 326h1v2h-1zM226 328h1v2h-1zM227 330h1v2h-1zM228 332h1v3h-1zM229 335h1v2h-1zM230 337h1v2h-1zM231 339h1v2h-1zM232 341h1v1h-1zM233 342h1v1h-1zM234 343h1v2h-1zM235 345h1v1h-1zM236 346h1v1h-1zM237 347h1v2h-1zM238 349h1v1h-1zM239 350h1v1h-1zM240 351h1v2h-1zM241 353h1v1h-1zM242 354h1v1h-1zM243 354h1v1h-1zM244 355h1v1h-1zM245 356h1v1h-1zM246 356h1v1h-1zM247 357h1v1h-1zM248 358h1v2h-1zM249 360h1v1h-1zM250 361h1v2h-1zM251 363h1v1h-1zM252 364h1v2h-1zM253 366h1v1h-1zM254 367h1v1h-1zM255 367h1v1h-1zM256 368h1v1h-1zM257 368h1v1h-1zM258 369h1v1h-1zM259 370h1v1h-1zM260 370h1v1h-1zM261 371h1v1h-1zM262 372h1v1h-1zM263 372h1v1h-1zM264 372h1v1h-1zM265 371h1v1h-1zM266 371h1v1h-1zM267 371h1v1h-1zM268 372h1v1h-1zM269 373h1v1h-1zM270 373h1v1h-1zM271 374h1v1h-1zM272 373h1v1h-1zM273 372h1v1h-1zM274 370h1v2h-1zM275 369h1v1h-1zM276 368h1v1h-1zM277 367h1v1h-1zM278 366h1v1h-1zM279 364h1v2h-1zM280 363h1v1h-1zM281 362h1v1h-1zM282 363h1v1h-1zM283 363h1v1h-1zM284 364h1v1h-1zM285 364h1v1h-1zM286 365h1v1h-1zM287 364h1v1h-1zM288 364h1v1h-1zM289 363h1v1h-1zM290 363h1v1h-1zM291 363h1v1h-1zM292 363h1v1h-1zM293 363h1v1h-1zM294 363h1v1h-1zM295 363h1v1h-1zM296 363h1v1h-1zM297 363h1v1h-1zM298 362h1v1h-1zM299 362h1v1h-1zM300 362h1v1h-1zM301 363h1v1h-1zM302 364h1v1h-1zM303 365h1v1h-1zM304 366h1v1h-1zM305 367h1v1h-1zM306 368h1v1h-1zM307 369h1v1h-1zM308 370h1v1h-1zM309 371h1v1h-1zM310 370h1v1h-1zM311 369h1v1h-1zM312 368h1v1h-1zM313 367h1v1h-1zM314 366h1v1h-1zM315 365h1v1h-1zM316 365h1v1h-1zM317 365h1v1h-1zM318 364h1v1h-1zM319 364h1v1h-1zM320 364h1v1h-1zM321 363h1v1h-1zM322 361h1v2h-1zM323 360h1v1h-1zM324 359h1v1h-1zM325 359h1v1h-1zM326 359h1v1h-1zM327 359h1v1h-1zM328 359h1v1h-1zM329 358h1v1h-1zM330 357h1v1h-1zM331 355h1v2h-1zM332 354h1v1h-1zM333 353h1v1h-1zM334 351h1v2h-1zM335 350h1v1h-1zM336 348h1v2h-1zM337 347h1v1h-1zM338 347h1v1h-1zM339 347h1v1h-1zM340 347h1v1h-1zM341 347h1v1h-1zM342 347h1v1h-1zM343 346h1v1h-1zM344 345h1v1h-1zM345 344h1v1h-1zM346 343h1v1h-1zM347 342h1v1h-1zM348 343h1v1h-1zM349 344h1v1h-1zM350 345h1v1h-1zM351 346h1v1h-1zM352 347h1v1h-1zM353 348h1v1h-1zM354 348h1v1h-1zM355 349h1v1h-1zM356 349h1v1h-1zM357 347h1v2h-1zM358 346h1v1h-1zM359 345h1v1h-1zM360 343h1v2h-1zM361 342h1v1h-1zM362 342h1v1h-1zM363 343h1v1h-1zM364 343h1v1h-1zM365 344h1v1h-1zM366 344h1v1h-1zM367 344h1v1h-1zM368 343h1v1h-1zM369 343h1v1h-1zM370 342h1v1h-1zM371 342h1v1h-1zM372 340h1v2h-1zM373 339h1v1h-1zM374 338h1v1h-1zM375 336h1v2h-1zM376 335h1v1h-1zM377 335h1v1h-1zM378 335h1v1h-1zM379 335h1v1h-1zM380 335h1v1h-1zM381 336h1v2h-1zM382 338h1v2h-1zM383 340h1v2h-1zM384 342h1v2h-1zM385 344h1v1h-1zM386 345h1v1h-1zM387 346h1v2h-1zM388 348h1v1h-1zM389 348h1v1h-1zM390 349h1v1h-1zM391 349h1v1h-1zM392 349h1v1h-1zM393 349h1v1h-1zM394 350h1v1h-1zM395 350h1v1h-1zM396 351h1v1h-1zM397 352h1v1h-1zM398 353h1v2h-1zM399 355h1v1h-1zM400 356h1v1h-1zM401 356h1v1h-1zM402 356h1v1h-1zM403 355h1v1h-1zM404 355h1v1h-1zM405 355h1v1h-1zM406 356h1v1h-1zM407 356h1v1h-1zM408 357h1v1h-1zM409 357h1v1h-1zM410 358h1v1h-1zM411 359h1v1h-1zM412 360h1v2h-1zM413 362h1v1h-1zM414 363h1v2h-1zM415 365h1v2h-1zM416 367h1v2h-1zM417 369h1v2h-1zM418 371h1v1h-1zM419 372h1v2h-1zM420 374h1v1h-1zM421 375h1v1h-1zM422 376h1v2h-1zM423 378h1v1h-1zM424 379h1v1h-1zM425 380h1v1h-1zM426 380h1v1h-1zM427 381h1v1h-1zM428 381h1v1h-1zM429 381h1v1h-1zM430 381h1v1h-1zM431 381h1v1h-1zM432 381h1v1h-1zM433 381h1v1h-1zM434 382h1v2h-1zM435 384h1v1h-1zM436 385h1v2h-1zM437 387h1v1h-1zM438 388h1v2h-1zM439 390h1v1h-1zM440 391h1v2h-1zM441 393h1v1h-1zM442 393h1v1h-1zM443 393h1v1h-1zM444 392h1v1h-1zM445 392h1v1h-1zM446 392h1v1h-1zM447 392h1v1h-1zM448 391h1v1h-1zM449 391h1v1h-1zM450 391h1v1h-1zM451 391h1v1h-1zM452 392h1v1h-1zM453 392h1v1h-1zM454 393h1v1h-1zM455 393h1v1h-1zM456 394h1v1h-1zM457 394h1v1h-1zM458 395h1v1h-1zM459 395h1v1h-1zM460 396h1v1h-1zM461 395h1v1h-1zM462 394h1v1h-1zM463 394h1v1h-1zM464 393h1v1h-1zM465 392h1v1h-1zM466 393h1v1h-1zM467 394h1v1h-1zM468 394h1v1h-1zM469 395h1v1h-1zM470 396h1v2h-1zM471 398h1v2h-1zM472 400h1v2h-1zM473 402h1v2h-1zM474 404h1v2h-1zM475 406h1v2h-1zM476 408h1v1h-1zM477 409h1v1h-1zM478 410h1v1h-1zM479 411h1v1h-1zM480 412h1v1h-1zM481 413h1v1h-1zM482 413h1v1h-1zM483 414h1v1h-1zM484 414h1v1h-1zM485 415h1v1h-1zM486 415h1v1h-1zM487 416h1v1h-1zM488 416h1v1h-1zM489 417h1v1h-1zM490 417h1v1h-1zM491 418h1v2h-1zM492 420h1v1h-1zM493 421h1v1h-1zM494 422h1v2h-1zM495 424h1v1h-1zM496 425h1v1h-1zM497 426h1v2h-1zM498 428h1v1h-1zM499 428h1v1h-1zM500 428h1v1h-1zM501 427h1v1h-1zM502 427h1v1h-1zM503 427h1v1h-1zM504 428h1v1h-1zM505 429h1v1h-1zM506 430h1v1h-1zM507 431h1v1h-1zM508 432h1v1h-1zM509 432h1v1h-1zM510 432h1v1h-1zM511 432h1v1h-1zM512 431h1v1h-1zM513 431h1v1h-1zM514 431h1v1h-1zM515 431h1v1h-1zM516 431h1v1h-1zM517 431h1v1h-1zM518 432h1v1h-1zM519 432h1v1h-1zM520 433h1v1h-1zM521 433h1v1h-1zM522 434h1v1h-1zM523 434h1v1h-1zM524 435h1v1h-1zM525 435h1v1h-1zM526 436h1v1h-1zM527 436h1v1h-1zM528 436h1v1h-1zM529 435h1v1h-1zM530 435h1v1h-1zM531 434h1v1h-1zM532 434h1v1h-1zM533 433h1v1h-1zM534 432h1v1h-1zM535 430h1v2h-1zM536 429h1v1h-1zM537 428h1v1h-1zM538 429h1v1h-1zM539 429h1v1h-1zM540 430h1v1h-1zM541 430h1v1h-1zM542 431h1v2h-1zM543 433h1v1h-1zM544 434h1v1h-1zM545 435h1v2h-1zM546 437h1v1h-1zM547 438h1v1h-1zM548 438h1v1h-1zM549 439h1v1h-1zM550 439h1v1h-1zM551 440h1v1h-1zM552 440h1v1h-1zM553 440h1v1h-1zM554 440h1v1h-1zM555 440h1v1h-1zM556 439h1v1h-1zM557 439h1v1h-1zM558 438h1v1h-1zM559 437h1v1h-1zM560 437h1v1h-1zM561 436h1v1h-1zM562 436h1v1h-1zM563 435h1v1h-1zM564 435h1v1h-1zM565 435h1v1h-1zM566 435h1v1h-1zM567 434h1v1h-1zM568 434h1v1h-1zM569 434h1v1h-1zM570 434h1v1h-1zM571 434h1v1h-1zM572 435h1v1h-1zM573 435h1v1h-1zM574 435h1v1h-1zM575 435h1v1h-1zM576 436h1v1h-1zM577 436h1v1h-1zM578 437h1v1h-1zM579 437h1v1h-1zM580 438h1v1h-1zM581 438h1v1h-1zM582 439h1v1h-1zM583 439h1v1h-1zM584 438h1v1h-1zM585 437h1v1h-1zM586 437h1v1h-1zM587 436h1v1h-1zM588 435h1v1h-1zM589 434h1v1h-1zM590 433h1v1h-1zM591 431h1v2h-1zM592 430h1v1h-1zM593 429h1v1h-1zM594 429h1v1h-1zM595 429h1v1h-1zM596 429h1v1h-1zM597 428h1v1h-1zM598 428h1v1h-1zM599 428h1v1h-1zM600 428h1v1h-1zM601 428h1v1h-1zM602 427h1v1h-1zM603 427h1v1h-1zM604 426h1v1h-1zM605 425h1v1h-1zM606 425h1v1h-1zM607 424h1v1h-1zM608 424h1v1h-1zM609 424h1v1h-1zM610 424h1v1h-1zM611 424h1v1h-1zM612 424h1v1h-1zM613 424h1v1h-1zM614 424h1v1h-1zM615 424h1v1h-1zM616 424h1v1h-1zM617 423h1v1h-1zM618 423h1v1h-1zM619 422h1v1h-1zM620 422h1v1h-1zM621 421h1v1h-1zM622 422h1v1h-1zM623 422h1v1h-1zM624 423h1v1h-1zM625 423h1v1h-1zM626 423h1v1h-1zM627 422h1v1h-1zM628 422h1v1h-1zM629 421h1v1h-1zM630 421h1v1h-1zM631 421h1v1h-1zM632 421h1v1h-1zM633 421h1v1h-1zM634 422h1v1h-1zM635 422h1v1h-1zM636 422h1v1h-1zM637 422h1v1h-1zM638 422h1v1h-1zM639 423h1v1h-1zM640 423h1v1h-1zM641 423h1v1h-1zM642 423h1v1h-1zM643 424h1v1h-1zM644 424h1v1h-1zM645 424h1v1h-1zM646 424h1v1h-1zM647 424h1v1h-1zM648 423h1v1h-1zM649 423h1v1h-1zM650 423h1v1h-1zM651 423h1v1h-1zM652 423h1v1h-1zM653 423h1v1h-1zM654 423h1v1h-1zM655 423h1v1h-1zM656 423h1v1h-1zM657 423h1v1h-1zM658 423h1v1h-1zM659 423h1v1h-1zM660 423h1v1h-1zM661 423h1v1h-1zM662 423h1v1h-1zM663 423h1v1h-1zM664 423h1v1h-1zM665 423h1v1h-1zM666 423h1v1h-1zM667 424h1v1h-1zM668 424h1v1h-1zM669 425h1v1h-1zM670 425h1v1h-1zM671 426h1v1h-1zM672 426h1v1h-1zM673 426h1v1h-1zM674 426h1v1h-1zM675 426h1v1h-1zM676 426h1v1h-1zM677 426h1v1h-1zM678 426h1v1h-1zM679 426h1v1h-1zM680 426h1v1h-1zM681 426h1v1h-1zM682 426h1v1h-1zM683 426h1v1h-1zM684 426h1v1h-1zM685 426h1v1h-1zM686 426h1v1h-1zM687 426h1v1h-1zM688 426h1v1h-1zM689 426h1v1h-1zM690 427h1v1h-1zM691 427h1v1h-1zM692 428h1v1h-1zM693 428h1v1h-1zM694 428h1v1h-1zM695 429h1v1h-1zM696 429h1v1h-1zM697 430h1v1h-1zM698 430h1v1h-1zM699 431h1v1h-1zM700 432h1v1h-1zM701 432h1v1h-1zM702 433h1v1h-1zM703 434h1v1h-1zM704 434h1v1h-1zM705 435h1v1h-1zM706 436h1v1h-1zM707 436h1v1h-1zM708 437h1v1h-1zM709 437h1v1h-1zM710 438h1v1h-1zM711 438h1v1h-1zM712 439h1v1h-1zM713 439h1v1h-1zM714 440h1v1h-1zM715 440h1v1h-1z"/>
</g>
<g filter="url(#t)">
<text x="413" y="13.9" text-anchor="middle" fill="#fff" style="font-weight:bold;font-size:11px" textLength="165" lengthAdjust="spacingAndGlyphs">Temperatur, Feuchte &amp; Druck</text>
<text x="110" y="35.6" fill="#c80000" textLength="79" lengthAdjust="spacingAndGlyphs">Temperatur [°C]</text>
<text x="364" y="35.6" fill="#008000" textLength="79.5" lengthAdjust="spacingAndGlyphs">rel. Feuchte [%]</text>
<text x="624.5" y="35.6" fill="#0000c8" textLength="56" lengthAdjust="spacingAndGlyphs">Druck [hPa]</text>
<g fill="#c80000" text-anchor="end">
<text x="36" y="50.25">°C</text>
<text x="36" y="72.5">6,5</text>
<text x="36" y="105.5">6,0</text>
<text x="36" y="139.5">5,5</text>
<text x="36" y="172.5">5,0</text>
<text x="36" y="206.5">4,5</text>
<text x="36" y="239.5">4,0</text>
<text x="36" y="273.5">3,5</text>
<text x="36" y="306.5">3,0</text>
<text x="36" y="339.5">2,5</text>
<text x="36" y="373.5">2,0</text>
<text x="36" y="406.5">1,5</text>
<text x="36" y="440.5">1,0</text>
</g>
<g fill="#008000">
<text x="725" y="50">%</text>
<text x="724.5" y="465.5">0</text>
<text x="724.5" y="444.5">5</text>
<text x="724.5" y="423.5">10</text>
<text x="724.5" y="402.5">15</text>
<text x="724.5" y="381.5">20</text>
<text x="724.5" y="360.5">25</text>
<text x="724.5" y="339.5">30</text>
<text x="724.5" y="318.5">35</text>
<text x="724.5" y="297.5">40</text>
<text x="724.5" y="276.5">45</text>
<text x="724.5" y="255.5">50</text>
<text x="724.5" y="234.5">55</text>
<text x="724.5" y="213.5">60</text>
<text x="724.5" y="192.5">65</text>
<text x="724.5" y="171.5">70</text>
<text x="724.5" y="150.5">75</text>
<text x="724.5" y="129.5">80</text>
<text x="724.5" y="108.5">85</text>
<text x="724.5" y="87.5">90</text>
<text x="724.5" y="66.5">95</text>
</g>
<g fill="#0000c8">
<text x="764.5" y="50" textLength="17.5" lengthAdjust="spacingAndGlyphs">hPa</text>
<text x="764.5" y="85.5">997</text>
<text x="764.5" y="117.5">996</text>
<text x="764.5" y="150.5">995</text>
<text x="764.5" y="183.5">994</text>
<text x="764.5" y="215.5">993</text>
<text x="764.5" y="248.5">992</text>
<text x="764.5" y="281.5">991</text>
<text x="764.5" y="313.5">990</text>
<text x="764.5" y="346.5">989</text>
<text x="764.5" y="379.5">988</text>
<text x="764.5" y="411.5">987</text>
<text x="764.5" y="444.5">986</text>
</g>
<g fill="#000" text-anchor="middle">
<text x="40.5" y="478.75">00:00</text>
<text x="40.5" y="493.75" textLength="43.5" lengthAdjust="spacingAndGlyphs">05.02.13</text>
<text x="125.5" y="478.75">03:00</text>
<text x="125.5" y="493.75" textLength="43.5" lengthAdjust="spacingAndGlyphs">05.02.13</text>
<text x="210.5" y="478.75">06:00</text>
<text x="210.5" y="493.75" textLength="43.5" lengthAdjust="spacingAndGlyphs">05.02.13</text>
<text x="295.5" y="478.75">09:00</text>
<text x="295.5" y="493.75" textLength="43.5" lengthAdjust="spacingAndGlyphs">05.02.13</text>
<text x="380.5" y="478.75">12:00</text>
<text x="380.5" y="493.75" textLength="43.5" lengthAdjust="spacingAndGlyphs">05.02.13</text>
<text x="465.5" y="478.75">15:00</text>
<text x="465.5" y="493.75" textLength="43.5" lengthAdjust="spacingAndGlyphs">05.02.13</text>
<text x="550.5" y="478.75">18:00</text>
<text x="550.5" y="493.75" textLength="43.5" lengthAdjust="spacingAndGlyphs">05.02.13</text>
<text x="635.5" y="478.75">21:00</text>
<text x="635.5" y="493.75" textLength="43.5" lengthAdjust="spacingAndGlyphs">05.02.13</text>
<text x="720.5" y="478.75">00:00</text>
<text x="720.5" y="493.75" textLength="43.5" lengthAdjust="spacingAndGlyphs">06.02.13</text>
</g>
</g>
</svg></body></html>
